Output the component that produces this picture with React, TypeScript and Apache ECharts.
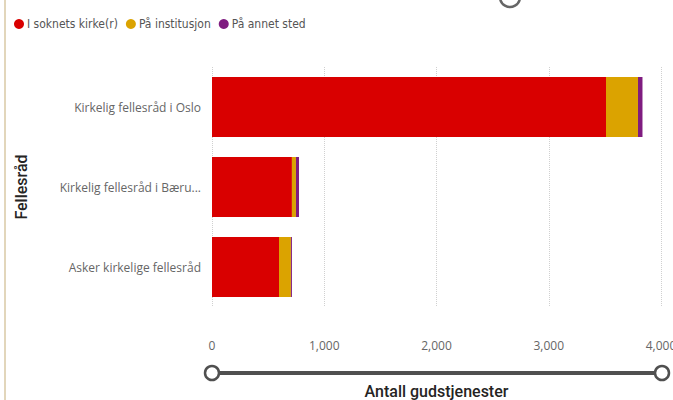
import React, { useEffect, useRef } from "react";
import * as echarts from "echarts";

const categories = ["Kirkelig fellesråd i Oslo", "Kirkelig fellesråd i Bærum", "Asker kirkelige fellesråd"];
const seriesNames = ["I soknets kirke(r)", "På institusjon", "På annet sted"];
const kirke = [3510, 712, 597];
const institusjon = [285, 36, 106];
const annet = [40, 27, 9];
const colors = ["#D90000", "#DBA300", "#7F1C80"];

export default function App() {
  const ref = useRef<HTMLDivElement>(null);
  useEffect(() => {
    const chart = echarts.init(ref.current!, null, { renderer: "svg" });
    const font = "'Open Sans', 'Noto Sans', sans-serif";
    const narrow = "'DejaVu Sans Condensed', sans-serif";
    const titleFont = "Roboto, 'Noto Sans', sans-serif";
    const mk = (name: string, data: number[], color: string) => ({
      name,
      type: "bar",
      stack: "total",
      data,
      barCategoryGap: "25%",
      itemStyle: { color },
    });
    chart.setOption({
      animation: false,
      textStyle: { fontFamily: font },
      color: colors,
      legend: {
        left: 9,
        top: 13,
        icon: "circle",
        itemWidth: 10,
        itemHeight: 10,
        itemGap: 8,
        textStyle: { color: "#555", fontSize: 12, fontFamily: narrow, padding: [0, 0, 0, -2] },
        data: seriesNames,
      },
      grid: { left: 212, right: 12, top: 67, bottom: 93, outerBoundsMode: "none", containLabel: false },
      xAxis: {
        type: "value",
        min: 0,
        max: 4000,
        interval: 1000,
        axisLine: { show: false },
        axisTick: { show: false },
        splitLine: { show: true, lineStyle: { type: "dotted", color: "#d0d0d0" } },
        axisLabel: {
          color: "#666",
          fontSize: 12,
          margin: 32,
          formatter: (v: number) => v.toLocaleString("en-US"),
        },
        name: "Antall gudstjenester",
        nameLocation: "middle",
        nameGap: 76,
        nameTextStyle: { color: "#252423", fontSize: 16, fontWeight: 500, fontFamily: titleFont },
      },
      yAxis: {
        type: "category",
        inverse: true,
        data: categories,
        axisLine: { show: false },
        axisTick: { show: false },
        axisLabel: {
          color: "#666",
          fontSize: 12,
          margin: 11,
          width: 200,
          overflow: "none",
          formatter: (v: string) => (v.length > 25 ? v.slice(0, 25) + "..." : v),
        },
        name: "Fellesråd",
        nameLocation: "middle",
        nameRotate: 90,
        nameGap: 183,
        nameTextStyle: { color: "#252423", fontSize: 16, fontWeight: 500, fontFamily: titleFont },
      },
      series: [
        mk(seriesNames[0], kirke, colors[0]),
        mk(seriesNames[1], institusjon, colors[1]),
        mk(seriesNames[2], annet, colors[2]),
      ],
      graphic: [
        { type: "line", shape: { x1: 5, y1: 0, x2: 5, y2: 400 }, style: { stroke: "#D8C8A4", lineWidth: 1.5 } },
        { type: "circle", shape: { cx: 510, cy: -3, r: 10 }, style: { fill: "none", stroke: "#666", lineWidth: 2.5 } },
        { type: "line", shape: { x1: 212, y1: 373, x2: 662, y2: 373 }, style: { stroke: "#505050", lineWidth: 4 } },
        { type: "circle", shape: { cx: 212, cy: 373, r: 7 }, style: { fill: "#fff", stroke: "#505050", lineWidth: 2.5 } },
        { type: "circle", shape: { cx: 662, cy: 373, r: 7 }, style: { fill: "#fff", stroke: "#505050", lineWidth: 2.5 } },
      ],
    });
    return () => chart.dispose();
  }, []);
  return <div ref={ref} style={{ position: "fixed", left: 0, top: 0, width: 673, height: 400, background: "#fff" }} />;
}
